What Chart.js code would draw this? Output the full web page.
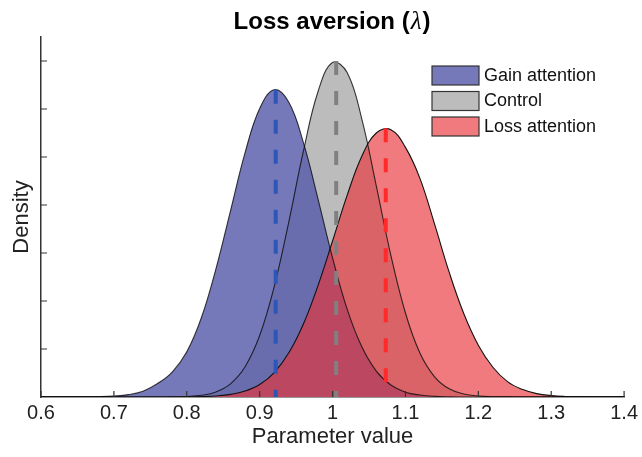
<!DOCTYPE html>
<html>
<head>
<meta charset="utf-8">
<script src="https://cdn.jsdelivr.net/npm/chart.js@4.4.1/dist/chart.umd.min.js"></script>
<style>
  body { margin: 0; background: #fff; }
  #wrap { width: 642px; height: 457px; }
</style>
</head>
<body>
<div id="wrap"><canvas id="Graph" width="642" height="457"></canvas></div>
<script>
// parameter grid (x) and posterior densities
const paramValues = [0.60,0.62,0.64,0.66,0.68,0.70,0.72,0.74,0.76,0.78,0.80,0.82,0.84,0.86,0.88,0.90,0.92,0.94,0.96,0.98,
  1.00,1.02,1.04,1.06,1.08,1.10,1.12,1.14,1.16,1.18,1.20,1.22,1.24,1.26,1.28,1.30,1.32,1.34,1.36,1.38,1.40];

const gainDensity = [0,0,0,0.001,0.006,0.02,0.05,0.12,0.28,0.52,0.94,1.65,2.67,3.88,5.09,6.01,6.40,6.14,5.30,4.13,
  2.90,1.83,1.05,0.54,0.25,0.10,0.04,0.013,0.004,0.001,0,0,0,0,0,0,0,0,0,0,0];

const controlDensity = [0,0,0,0,0,0,0,0,0.001,0.003,0.011,0.036,0.106,0.275,0.63,1.28,2.30,3.65,5.12,6.36,
  6.97,6.76,5.80,4.40,2.95,1.75,0.91,0.42,0.17,0.063,0.020,0.006,0.002,0,0,0,0,0,0,0,0];

const lossDensity = [0,0,0,0,0,0,0,0,0,0,0.003,0.008,0.022,0.055,0.125,0.26,0.51,0.92,1.52,2.32,
  3.25,4.20,5.01,5.50,5.57,5.20,4.55,3.60,2.60,1.74,1.08,0.62,0.32,0.16,0.071,0.029,0.011,0.004,0.001,0,0];

const seriesNames = ["Gain attention", "Control", "Loss attention"];
const meanValues = [0.922, 1.005, 1.073];
const meanHeights = [6.4, 7.0, 5.6];

const xTicks = [0.6,0.7,0.8,0.9,1.0,1.1,1.2,1.3,1.4];
const yTicks = [1,2,3,4,5,6,7];

const fillColors = ["rgba(88,92,170,0.82)", "rgb(188,188,188)", "rgba(232,51,55,0.65)"];
const dashColors = ["#2e56b8", "#808080", "#ff2a2a"];
const font = "'Liberation Sans', Arial, sans-serif";

function toPoints(ys){
    return paramValues.map((x, i) => ({x: x, y: ys[i]}));
}

const densities = [gainDensity, controlDensity, lossDensity];
const fillOrder = [4, 5, 3]; // grey at the back, blue over it, red in front

let datasets = [];
for (let i = 0; i < 3; i++){
    datasets.push({
        label: seriesNames[i],
        data: toPoints(densities[i]),
        backgroundColor: fillColors[i],
        borderWidth: 0,
        fill: "origin",
        tension: 0.4,
        pointRadius: 0,
        order: fillOrder[i],
        isDensity: true
    });
}
// outlines stay visible through the overlapping fills
for (let i = 0; i < 3; i++){
    datasets.push({
        label: seriesNames[i] + " outline",
        data: toPoints(densities[i]),
        borderColor: i == 2 ? "#111" : "rgba(10,10,10,0.8)",
        borderWidth: 1.1,
        fill: false,
        tension: 0.4,
        pointRadius: 0,
        order: 2
    });
}
for (let i = 0; i < 3; i++){
    datasets.push({
        label: seriesNames[i] + " mean",
        data: [{x: meanValues[i], y: meanHeights[i]}, {x: meanValues[i], y: 0}],
        borderColor: dashColors[i],
        borderWidth: 4,
        borderDash: [14, 16],
        fill: false,
        pointRadius: 0,
        order: 1
    });
}

// title, inward ticks and legend box
const extras = {
    id: "extras",
    afterDraw(chart){
        const ctx = chart.ctx;
        const area = chart.chartArea;
        const xs = chart.scales.x, ys = chart.scales.y;
        ctx.save();
        ctx.fillStyle = "#000";
        ctx.textAlign = "left";
        ctx.textBaseline = "middle";
        const parts = [["Loss aversion (", "bold 24px " + font], ["\u03bb", "italic 25px 'Liberation Serif', serif"], [")", "bold 24px " + font]];
        let total = 0;
        parts.forEach(p => { ctx.font = p[1]; total += ctx.measureText(p[0]).width + 1; });
        let tx = (area.left + area.right) / 2 - total / 2;
        parts.forEach(p => {
            ctx.font = p[1];
            ctx.fillText(p[0], tx, 22);
            tx += ctx.measureText(p[0]).width + 1;
        });

        ctx.strokeStyle = "#333";
        ctx.lineWidth = 1.2;
        ctx.beginPath();
        xTicks.forEach(v => {
            const px = xs.getPixelForValue(v);
            ctx.moveTo(px, area.bottom);
            ctx.lineTo(px, area.bottom - 6);
        });
        yTicks.forEach(v => {
            const py = ys.getPixelForValue(v);
            ctx.moveTo(area.left, py);
            ctx.lineTo(area.left + 6, py);
        });
        ctx.stroke();

        let rowY = 66;
        ctx.font = "18px " + font;
        ctx.textAlign = "left";
        chart.data.datasets.filter(d => d.isDensity).forEach(d => {
            ctx.fillStyle = "#fff";
            ctx.fillRect(432, rowY, 47, 19);
            ctx.fillStyle = d.backgroundColor;
            ctx.fillRect(432, rowY, 47, 19);
            ctx.strokeStyle = "#333";
            ctx.lineWidth = 1.2;
            ctx.strokeRect(432, rowY, 47, 19);
            ctx.fillStyle = "#111";
            ctx.fillText(d.label, 484, rowY + 10);
            rowY += 25.5;
        });
        ctx.restore();
    }
};

new Chart("Graph", {
    type: "line",
    data: {datasets: datasets},
    options: {
        responsive: false,
        animation: false,
        layout: {padding: {top: 37, right: 14, left: 0, bottom: 0}},
        plugins: {
            legend: {display: false},
            title: {display: false},
            tooltip: {enabled: false}
        },
        scales: {
            x: {
                type: "linear",
                min: 0.6,
                max: 1.4,
                afterFit(scale){ scale.height = 60; },
                afterBuildTicks(scale){ scale.ticks = xTicks.map(v => ({value: v})); },
                grid: {drawOnChartArea: false, drawTicks: false},
                border: {color: "#333", width: 1.5},
                ticks: {
                    padding: 4,
                    color: "#222",
                    font: {family: font, size: 20},
                    callback: v => String(+v.toFixed(1))
                },
                title: {
                    display: true,
                    text: "Parameter value",
                    color: "#222",
                    font: {family: font, size: 22},
                    padding: {top: 0, bottom: 7}
                }
            },
            y: {
                min: 0,
                max: 7.5,
                afterFit(scale){ scale.width = 41; },
                grid: {drawOnChartArea: false, drawTicks: false},
                border: {color: "#333", width: 1.5},
                ticks: {display: false},
                title: {
                    display: true,
                    text: "Density",
                    color: "#222",
                    font: {family: font, size: 22},
                    padding: {top: 9, bottom: 0}
                }
            }
        }
    },
    plugins: [extras]
});
</script>
</body>
</html>
